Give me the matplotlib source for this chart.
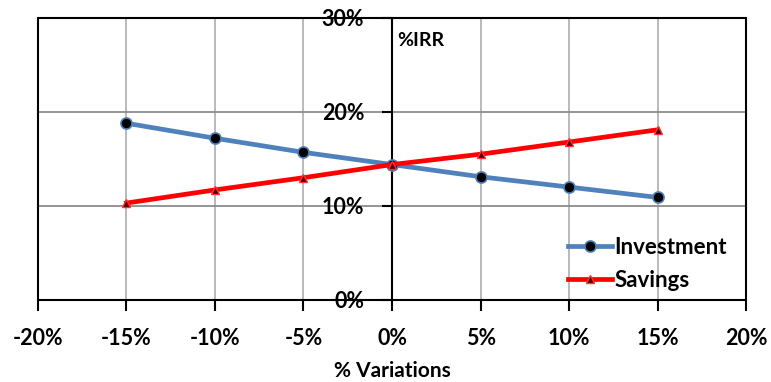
import matplotlib
matplotlib.use("Agg")
import matplotlib.pyplot as plt
from matplotlib.patches import Rectangle
from matplotlib.ticker import FuncFormatter

plt.rcParams['font.family'] = ['Lato', 'DejaVu Sans']
plt.rcParams['font.weight'] = 'bold'

# data
variations = [-15, -10, -5, 0, 5, 10, 15]
investment = [18.8, 17.2, 15.7, 14.4, 13.1, 12.0, 10.9]
savings = [10.3, 11.7, 13.0, 14.4, 15.5, 16.8, 18.1]
xticks = [-20, -15, -10, -5, 0, 5, 10, 15, 20]
yticks = [0, 10, 20, 30]

fig = plt.figure(figsize=(7.71, 3.82), dpi=100)
ax = fig.add_axes([0.049, 0.215, 0.919, 0.738])

ax.set_xlim(-20, 20)
ax.set_ylim(0, 30)

# grid
for xv in xticks:
    ax.axvline(xv, color='#b4b4b4', lw=1.3, zorder=0)
for yv in yticks[1:-1]:
    ax.axhline(yv, color='#8c8c8c', lw=1.3, zorder=0)

ax.plot(variations, investment, color='#4f81bd', lw=3.4, marker='o',
        markersize=8, markerfacecolor='black', markeredgecolor='#4f81bd',
        markeredgewidth=1.2, label='Investment', zorder=3)
ax.plot(variations, savings, color='#ff0000', lw=3.4, marker='^',
        markersize=6, markerfacecolor='#4a0000', markeredgecolor='#ff3030',
        markeredgewidth=1.0, label='Savings', zorder=3)

# y axis sits at x = 0
ax.spines['left'].set_position(('data', 0))
ax.spines['left'].set_linewidth(1.5)
for s in ['top', 'right', 'bottom']:
    ax.spines[s].set_visible(False)
ax.add_patch(Rectangle((0, 0), 1, 1, transform=ax.transAxes, fill=False,
                       edgecolor='black', lw=1.5, zorder=4, clip_on=False))

pct = FuncFormatter(lambda v, p: '%d%%' % v)
ax.set_xticks(xticks)
ax.set_yticks(yticks)
ax.xaxis.set_major_formatter(pct)
ax.yaxis.set_major_formatter(pct)
ax.tick_params(axis='x', direction='out', length=8, width=1.5, pad=12,
               labelsize=15.5)
ax.tick_params(axis='y', direction='out', length=7, width=1.5, pad=13,
               labelsize=15.5)
ax.set_xlabel('% Variations', fontsize=15, fontweight='bold', labelpad=9)

ax.text(0.3, 28.5, '%IRR', fontsize=14, fontweight='bold', va='top',
        ha='left')

leg = ax.legend(loc='lower right', bbox_to_anchor=(0.985, 0.0),
                frameon=False, fontsize=16, handlelength=2.0,
                handletextpad=0.1, labelspacing=0.55, borderaxespad=0.0)
for t in leg.get_texts():
    t.set_fontweight('bold')

fig.savefig('out.png', dpi=100)
